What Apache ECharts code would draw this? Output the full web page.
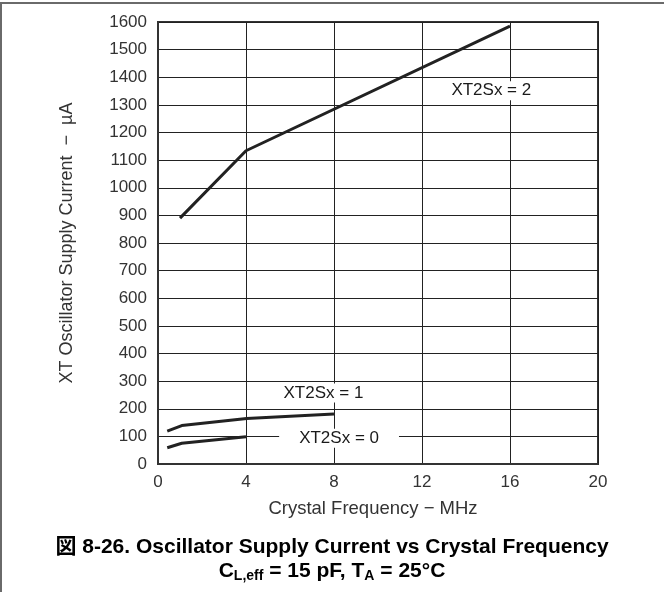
<!DOCTYPE html>
<html>
<head>
<meta charset="utf-8">
<script src="https://cdn.jsdelivr.net/npm/echarts@6/dist/echarts.min.js"></script>
<style>
html,body{margin:0;padding:0;background:#fff;}
#chart{width:664px;height:592px;}
</style>
</head>
<body>
<div id="chart"></div>
<script>
// ---- data ----
var xTicks = [0, 4, 8, 12, 16, 20];
var yTicks = [0, 100, 200, 300, 400, 500, 600, 700, 800, 900, 1000, 1100, 1200, 1300, 1400, 1500, 1600];

var freq2 = [1, 4, 16];
var curr2 = [890, 1134, 1585];

var freq1 = [0.42, 1.08, 4.03, 8];
var curr1 = [119, 139, 165, 181];

var freq0 = [0.42, 1.08, 4];
var curr0 = [59, 75, 99];

var labelNames = ['XT2Sx = 2', 'XT2Sx = 1', 'XT2Sx = 0'];
var labelX = [15.15, 7.52, 8.23];
var labelY = [1351, 257, 93];

var captionLine1 = '図 8-26. Oscillator Supply Current vs Crystal Frequency';
var xTitle = 'Crystal Frequency \u2212 MHz';
var yTitle = 'XT Oscillator Supply Current  \u2212  µA';

// ---- build ----
function pairs(xs, ys) { return xs.map(function (x, i) { return [x, ys[i]]; }); }
var FONT = '"Liberation Sans", Arial, "Noto Sans CJK JP", sans-serif';
var lineStyle = { color: '#222', width: 3 };

var chart = echarts.init(document.getElementById('chart'), null, { renderer: 'canvas' });
chart.setOption({
  animation: false,
  backgroundColor: '#fff',
  textStyle: { fontFamily: FONT },
  title: [
    {
      text: captionLine1,
      left: 'center',
      top: 532,
      textStyle: { fontFamily: FONT, fontSize: 21, fontWeight: 'bold', color: '#000' }
    },
    {
      text: '{m|C}{s|L,eff}{m| = 15 pF, T}{s|A}{m| = 25°C}',
      left: 'center',
      top: 555,
      textStyle: {
        fontFamily: FONT,
        rich: {
          m: { fontFamily: FONT, fontSize: 21, fontWeight: 'bold', color: '#000', lineHeight: 23 },
          s: { fontFamily: FONT, fontSize: 14, fontWeight: 'bold', color: '#000', lineHeight: 15, padding: [9, 0, 0, 0] }
        }
      }
    }
  ],
  graphic: [
    { type: 'line', shape: { x1: 0, y1: 3, x2: 664, y2: 3 }, style: { stroke: '#6a6a6a', lineWidth: 2 } },
    { type: 'line', shape: { x1: 1, y1: 3, x2: 1, y2: 592 }, style: { stroke: '#6a6a6a', lineWidth: 2 } }
  ],
  grid: {
    left: 158, right: 66, top: 22, bottom: 128,
    show: true, borderColor: '#333', borderWidth: 2, backgroundColor: 'transparent'
  },
  xAxis: {
    type: 'value', min: xTicks[0], max: xTicks[xTicks.length - 1], interval: xTicks[1] - xTicks[0],
    name: xTitle, nameLocation: 'middle', nameGap: 36,
    nameTextStyle: { fontFamily: FONT, fontSize: 18.5, color: '#333', padding: [0, 10, 0, 0] },
    axisLine: { show: true, lineStyle: { color: '#333', width: 2 } },
    axisTick: { show: false },
    axisLabel: { margin: 10, fontSize: 17, color: '#333', fontFamily: FONT, formatter: function (v) { return String(v); } },
    splitLine: { show: true, lineStyle: { color: '#222', width: 1 } }
  },
  yAxis: {
    type: 'value', min: yTicks[0], max: yTicks[yTicks.length - 1], interval: yTicks[1] - yTicks[0],
    name: yTitle, nameLocation: 'middle', nameGap: 82,
    nameTextStyle: { fontFamily: FONT, fontSize: 18, color: '#333' },
    axisLine: { show: true, lineStyle: { color: '#333', width: 2 } },
    axisTick: { show: false },
    axisLabel: { margin: 11, fontSize: 17, color: '#333', fontFamily: FONT, formatter: function (v) { return String(v); } },
    splitLine: { show: true, lineStyle: { color: '#222', width: 1 } }
  },
  series: [
    { type: 'line', data: pairs(freq2, curr2), symbol: 'none', lineStyle: lineStyle, z: 3 },
    { type: 'line', data: pairs(freq1, curr1), symbol: 'none', lineStyle: lineStyle, z: 3 },
    { type: 'line', data: pairs(freq0, curr0), symbol: 'none', lineStyle: lineStyle, z: 3 },
    {
      type: 'scatter',
      symbolSize: 0,
      z: 4,
      itemStyle: { opacity: 1 },
      data: labelNames.map(function (n, i) { return { name: n, value: [labelX[i], labelY[i]] }; }),
      label: {
        show: true, position: 'inside',
        formatter: function (p) { return p.name; },
        fontFamily: FONT, fontSize: 17, color: '#1a1a1a', opacity: 1,
        backgroundColor: '#fff', padding: [1, 20, 1, 20]
      },
      emphasis: { disabled: true }
    }
  ]
});
</script>
</body>
</html>
